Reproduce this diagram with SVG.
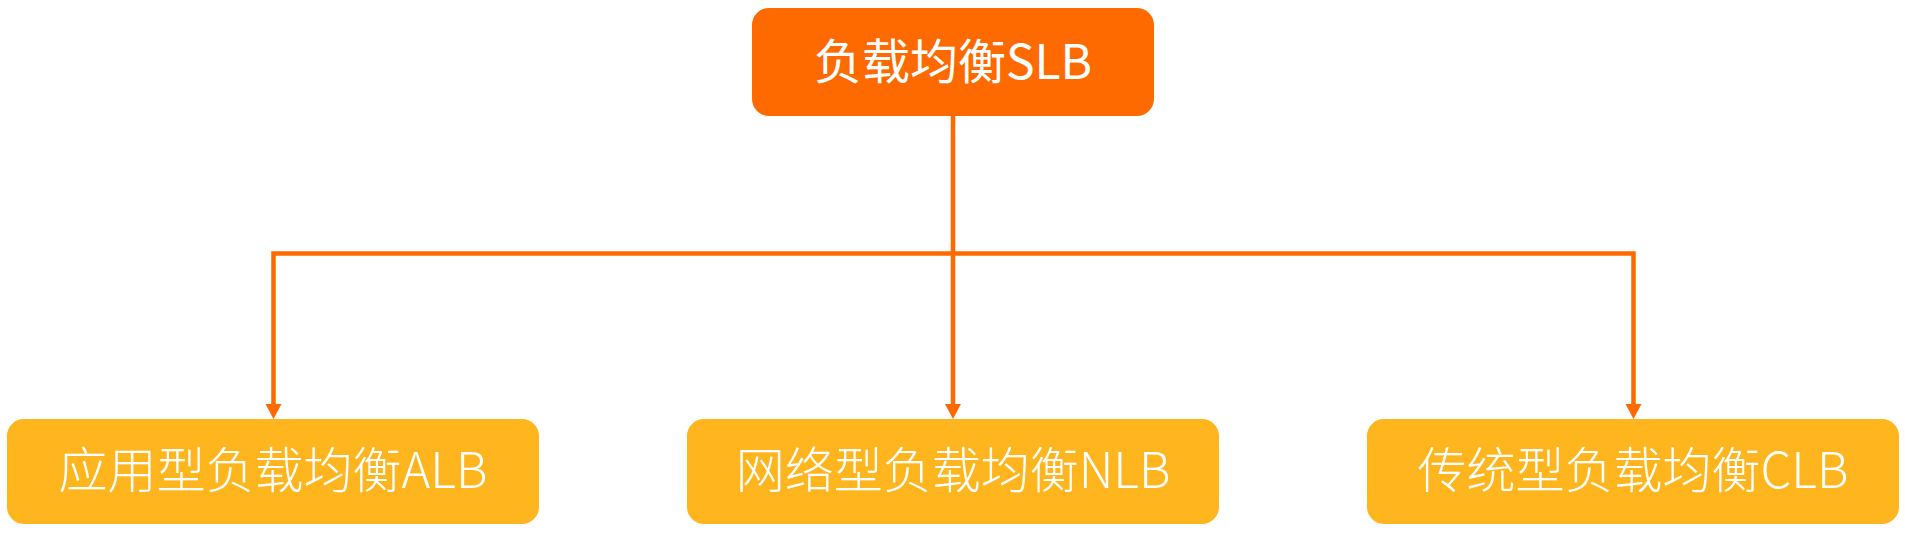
<svg xmlns="http://www.w3.org/2000/svg" width="1905" height="533" viewBox="0 0 1905 533">
<style>
.root{fill:#FF6A00;}
.child{fill:#FEB51E;}
.lbl{fill:#FFFFFF;font-family:"Noto Sans CJK SC","Noto Sans",sans-serif;text-anchor:middle;}
.top{font-size:48px;font-weight:400;}
.lt{font-size:49px;font-weight:300;}
.conn{fill:none;stroke:#FF6A00;stroke-width:4.5;}
.head{fill:#FF6A00;}
</style>
<rect width="1905" height="533" fill="#FFFFFF"/>
<g id="connectors">
<path class="conn" d="M953,116 L953,404"/>
<path class="conn" d="M953,253.5 L273.5,253.5 L273.5,404"/>
<path class="conn" d="M953,253.5 L1633.5,253.5 L1633.5,404"/>
<path class="head" d="M265.5,404 L281.5,404 L273.5,419 Z"/>
<path class="head" d="M945,404 L961,404 L953,419 Z"/>
<path class="head" d="M1625.5,404 L1641.5,404 L1633.5,419 Z"/>
</g>
<g id="slb">
<rect class="root" x="752" y="8" width="402" height="108" rx="17"/>
<text class="lbl top" x="953" y="79">负载均衡SLB</text>
</g>
<g id="alb">
<rect class="child" x="7" y="419" width="532" height="105" rx="17"/>
<text class="lbl lt" x="273" y="488">应用型负载均衡ALB</text>
</g>
<g id="nlb">
<rect class="child" x="687" y="419" width="532" height="105" rx="17"/>
<text class="lbl lt" x="953" y="488">网络型负载均衡NLB</text>
</g>
<g id="clb">
<rect class="child" x="1367" y="419" width="532" height="105" rx="17"/>
<text class="lbl lt" x="1633" y="488">传统型负载均衡CLB</text>
</g>
</svg>
